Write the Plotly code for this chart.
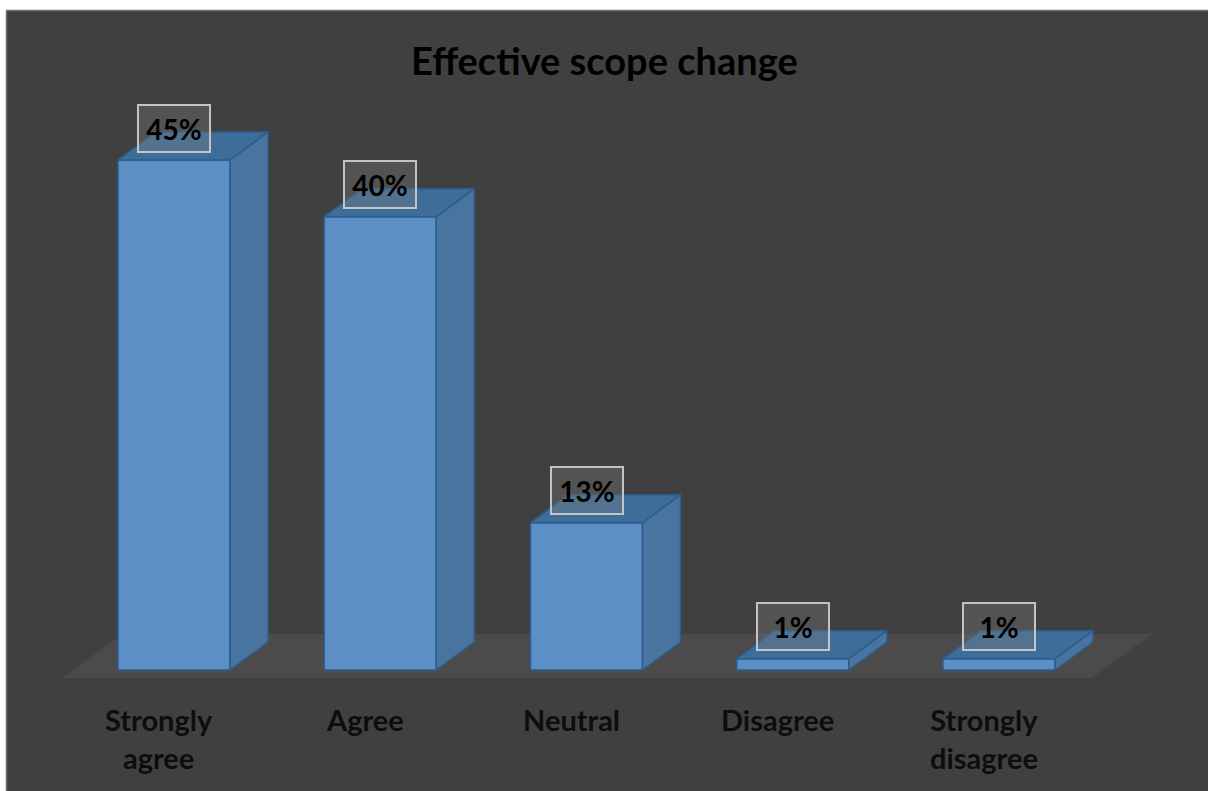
import plotly.graph_objects as go

# Survey responses
CATEGORIES = ["Strongly<br>agree", "Agree", "Neutral", "Disagree", "Strongly<br>disagree"]
VALUES = [45, 40, 13, 1, 1]
VALUE_LABELS = ["45%", "40%", "13%", "1%", "1%"]
TITLE = "Effective scope change"

W, H = 1208, 791
PX_PER_CAT = 206.25      # horizontal pixels per category
PX_PER_PCT = 11.333      # vertical pixels per percentage point
X0_PX = 174              # pixel position of the first category
BASE_PX = 670            # pixel position of zero

# axis ranges so the plot area covers the whole page
x_range = [-X0_PX / PX_PER_CAT, (W - X0_PX) / PX_PER_CAT]
y_range = [-(H - BASE_PX) / PX_PER_PCT, BASE_PX / PX_PER_PCT]

BAR_W = 112 / PX_PER_CAT
DEPTH_X = 38 / PX_PER_CAT
DEPTH_Y = 28 / PX_PER_PCT

FRONT = "#5b8fc6"
SIDE = "#4a74a0"
TOP = "#3f6d99"
EDGE = "#2c5d8c"
BG = "#404040"
FLOOR = "#4c4a4a"

fig = go.Figure()


def poly(xs, ys, fill, line_color=None, width=1.5):
    fig.add_trace(go.Scatter(
        x=xs + [xs[0]], y=ys + [ys[0]], mode="lines", fill="toself",
        fillcolor=fill,
        line=dict(color=line_color or fill, width=width if line_color else 0),
        hoverinfo="skip", showlegend=False))


# floor of the 3D scene
n = len(VALUES)
fl_front_y = -8 / PX_PER_PCT
fl_back_y = 36 / PX_PER_PCT
fl_l = -112 / PX_PER_CAT
fl_r = (n - 1) + 93 / PX_PER_CAT
fl_dx = 60 / PX_PER_CAT
poly([fl_l, fl_r, fl_r + fl_dx, fl_l + fl_dx],
     [fl_front_y, fl_front_y, fl_back_y, fl_back_y], FLOOR)

# 3D bars: front, side and top faces
for i, v in enumerate(VALUES):
    xl, xr = i - BAR_W / 2, i + BAR_W / 2
    poly([xl, xr, xr, xl], [0, 0, v, v], FRONT, EDGE)
    poly([xr, xr + DEPTH_X, xr + DEPTH_X, xr], [0, DEPTH_Y, v + DEPTH_Y, v], SIDE, EDGE)
    poly([xl, xr, xr + DEPTH_X, xl + DEPTH_X], [v, v, v + DEPTH_Y, v + DEPTH_Y], TOP, EDGE)

annotations = []
# value labels in boxes above each bar
for i, (v, lab) in enumerate(zip(VALUES, VALUE_LABELS)):
    annotations.append(dict(
        x=i, y=v + 32 / PX_PER_PCT, xref="x", yref="y", text="<b>%s</b>" % lab,
        showarrow=False, font=dict(family="Lato", size=28, color="#000000"),
        bgcolor="rgba(125,125,125,0.32)", bordercolor="#c4c4c4", borderwidth=2,
        borderpad=0, width=70, height=45, xanchor="center", yanchor="middle"))

# category labels below the floor
for i, cat in enumerate(CATEGORIES):
    annotations.append(dict(
        x=i, y=-(700 - BASE_PX) / PX_PER_PCT, xref="x", yref="y",
        text="<b>%s</b>" % cat, showarrow=False, xshift=-15,
        font=dict(family="Lato", size=29, color="#0d0d0d"),
        xanchor="center", yanchor="top", align="center"))

# chart title
annotations.append(dict(
    x=0.5, y=1 - 60 / H, xref="paper", yref="paper", text="<b>%s</b>" % TITLE,
    showarrow=False, font=dict(family="Lato", size=38, color="#000000"),
    xanchor="center", yanchor="middle"))

fig.update_layout(
    width=W, height=H, margin=dict(l=0, r=0, t=0, b=0),
    paper_bgcolor="white", plot_bgcolor="white",
    xaxis=dict(range=x_range, visible=False, fixedrange=True),
    yaxis=dict(range=y_range, visible=False, fixedrange=True),
    shapes=[dict(type="rect", xref="paper", yref="paper", layer="below",
                 x0=6.5 / W, x1=1.01, y0=-0.01, y1=1 - 10.5 / H,
                 fillcolor=BG, line=dict(color="#6e6e6e", width=1.5))],
    annotations=annotations,
    showlegend=False,
)

fig.write_html("out.html")
